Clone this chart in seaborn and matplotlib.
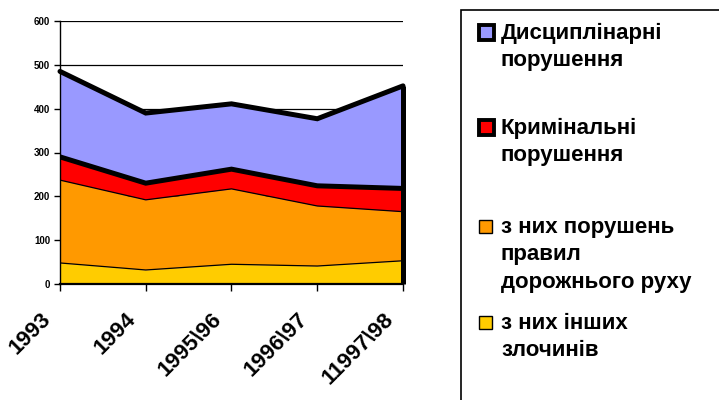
import matplotlib
matplotlib.use("Agg")
import matplotlib.pyplot as plt
import matplotlib.transforms as mtransforms
from matplotlib.patches import Rectangle
import numpy as np
import pandas as pd
import seaborn as sns

# values
years = ["1993", "1994", "1995\\96", "1996\\97", "11997\\98"]
other_crimes = [48, 32, 45, 41, 53]
traffic = [189, 160, 172, 137, 112]
criminal = [53, 38, 45, 46, 53]
disciplinary = [195, 160, 149, 153, 234]

labels = [
    "Дисциплінарні\nпорушення",
    "Кримінальні\nпорушення",
    "з них порушень\nправил\nдорожнього руху",
    "з них інших\nзлочинів",
]
colors = ["#FFCC00", "#FF9900", "#FF0000", "#9999FF"]
yticks = [0, 100, 200, 300, 400, 500, 600]

sns.set_theme(style="white")
plt.rcParams["font.family"] = ["Liberation Sans", "DejaVu Sans"]
plt.rcParams["text.color"] = "black"
plt.rcParams["xtick.color"] = "black"
plt.rcParams["ytick.color"] = "black"

W, H = 719, 400
fig = plt.figure(figsize=(W / 100, H / 100), dpi=100)
ax = fig.add_axes([60 / W, 1 - 284 / H, (403 - 60) / W, (284 - 21) / H])

x = np.arange(len(years))
layers = np.array([other_crimes, traffic, criminal, disciplinary])
tops = layers.cumsum(axis=0)

for yv in yticks[1:]:
    ax.axhline(yv, color="black", lw=0.9, zorder=0)

ax.stackplot(x, layers, colors=colors, linewidth=0, zorder=1)

df = pd.DataFrame({"x": x, "yellow": tops[0], "orange": tops[1],
                   "red": tops[2], "blue": tops[3]})
sns.lineplot(data=df, x="x", y="yellow", color="black", lw=0.9, ax=ax, zorder=2)
sns.lineplot(data=df, x="x", y="orange", color="black", lw=0.9, ax=ax, zorder=2)
sns.lineplot(data=df, x="x", y="red", color="black", lw=3.6, ax=ax, zorder=3,
             solid_joinstyle="miter")
sns.lineplot(data=df, x="x", y="blue", color="black", lw=3.6, ax=ax, zorder=3,
             solid_joinstyle="miter", clip_on=False)
ax.vlines(x[-1], 0, tops[3][-1], color="black", lw=3.6, zorder=3, clip_on=False)

ax.set_xlim(0, len(years) - 1)
ax.set_ylim(0, 600)
ax.set_xlabel("")
ax.set_ylabel("")
ax.set_xticks(x)
ax.set_xticklabels([])
# rotated category labels, placed below and left of each tick
shift = mtransforms.ScaledTranslation(-20 / 100, -25 / 100, fig.dpi_scale_trans)
for xi, lab in zip(x, years):
    ax.text(xi, 0, lab, transform=ax.get_xaxis_transform() + shift,
            rotation=45, ha="right", va="top", rotation_mode="anchor",
            fontsize=16, fontweight="bold", clip_on=False)
ax.set_yticks(yticks)
ax.set_yticklabels([str(v) for v in yticks], fontsize=7, fontweight="bold")
ax.tick_params(axis="x", direction="out", length=5, width=1, pad=6)
ax.tick_params(axis="y", direction="out", length=4, width=1, pad=3)
ax.xaxis.set_ticks_position("bottom")
ax.yaxis.set_ticks_position("left")
for side in ["top", "right"]:
    ax.spines[side].set_visible(False)
ax.spines["left"].set_color("black")
ax.spines["left"].set_linewidth(1.0)
ax.spines["bottom"].set_color("black")
ax.spines["bottom"].set_linewidth(1.6)
ax.grid(False)

# legend box (right side, cut by the figure edge)
fig.add_artist(Rectangle((461 / W, 1 - 420 / H), 300 / W, 410 / H,
                         transform=fig.transFigure, fill=False,
                         edgecolor="black", lw=1.2))

legend_rows = [32, 127, 226, 322]
thick = [True, True, False, False]
legend_colors = colors[::-1]
for lab, yc, col, tk in zip(labels, legend_rows, legend_colors, thick):
    s = 15 if tk else 13
    fig.add_artist(Rectangle((479 / W, 1 - (yc + s / 2) / H), s / W, s / H,
                             transform=fig.transFigure, facecolor=col,
                             edgecolor="black", lw=2.8 if tk else 1.0))
    fig.text(501 / W, 1 - (yc - 9) / H, lab, ha="left", va="top",
             fontsize=16, fontweight="bold", linespacing=1.4)

fig.savefig("out.png", dpi=100)
